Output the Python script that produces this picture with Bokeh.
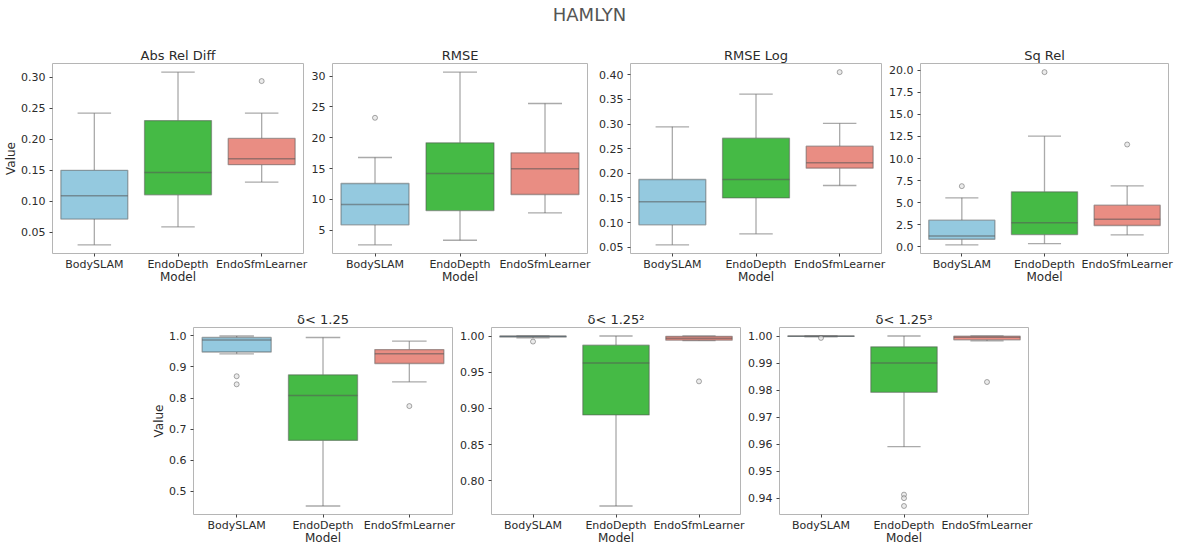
from bokeh.plotting import figure
from bokeh.layouts import column, row
from bokeh.models import Div, FixedTicker, PrintfTickFormatter, ColumnDataSource, Range1d, FactorRange
from bokeh.transform import dodge
from bokeh.embed import file_html
from bokeh.resources import INLINE

models = ["BodySLAM", "EndoDepth", "EndoSfmLearner"]
colors = ["#94C9DF", "#45BA45", "#E98D83"]

# Abs Rel Diff
abs_lo = [0.030, 0.059, 0.131]
abs_q1 = [0.0715, 0.1106, 0.159]
abs_med = [0.109, 0.1466, 0.1686]
abs_q3 = [0.150, 0.230, 0.2013]
abs_hi = [0.242, 0.308, 0.242]
abs_out = [[], [], [0.2936]]
abs_ticks = [0.05, 0.10, 0.15, 0.20, 0.25, 0.30]

# RMSE
rmse_lo = [2.62, 3.37, 7.81]
rmse_q1 = [5.87, 8.19, 10.79]
rmse_med = [9.17, 14.2, 14.96]
rmse_q3 = [12.58, 19.18, 17.55]
rmse_hi = [16.8, 30.65, 25.56]
rmse_out = [[23.24], [], []]
rmse_ticks = [5, 10, 15, 20, 25, 30]

# RMSE Log
rlog_lo = [0.0547, 0.0771, 0.1752]
rlog_q1 = [0.0953, 0.150, 0.2104]
rlog_med = [0.142, 0.1874, 0.2213]
rlog_q3 = [0.1874, 0.2714, 0.2551]
rlog_hi = [0.2944, 0.3607, 0.3012]
rlog_out = [[], [], [0.4054]]
rlog_ticks = [0.05, 0.10, 0.15, 0.20, 0.25, 0.30, 0.35, 0.40]

# Sq Rel
sq_lo = [0.19, 0.34, 1.33]
sq_q1 = [0.83, 1.36, 2.39]
sq_med = [1.21, 2.69, 3.11]
sq_q3 = [2.99, 6.21, 4.70]
sq_hi = [5.53, 12.54, 6.89]
sq_out = [[6.86], [19.81], [11.59]]
sq_ticks = [0.0, 2.5, 5.0, 7.5, 10.0, 12.5, 15.0, 17.5, 20.0]

# delta < 1.25
d1_lo = [0.942, 0.4525, 0.852]
d1_q1 = [0.948, 0.6635, 0.911]
d1_med = [0.987, 0.808, 0.942]
d1_q3 = [0.9947, 0.8745, 0.9557]
d1_hi = [0.9995, 0.9947, 0.983]
d1_out = [[0.870, 0.844], [], [0.774]]
d1_ticks = [0.5, 0.6, 0.7, 0.8, 0.9, 1.0]

# delta < 1.25^2
d2_lo = [0.9975, 0.765, 0.9935]
d2_q1 = [0.9985, 0.8909, 0.9942]
d2_med = [0.9995, 0.9627, 0.9968]
d2_q3 = [0.9999, 0.9873, 0.9995]
d2_hi = [1.0, 1.0, 1.0]
d2_out = [[0.9923], [], [0.9373]]
d2_ticks = [0.80, 0.85, 0.90, 0.95, 1.00]

# delta < 1.25^3
d3_lo = [0.9997, 0.9591, 0.9982]
d3_q1 = [0.99985, 0.9792, 0.9986]
d3_med = [0.99995, 0.990, 0.9995]
d3_q3 = [1.0, 0.996, 0.99995]
d3_hi = [1.0, 1.0, 1.0]
d3_out = [[0.9993], [0.9414, 0.9401, 0.9372], [0.9830]]
d3_ticks = [0.94, 0.95, 0.96, 0.97, 0.98, 0.99, 1.00]

FONT = "DejaVu Sans"
TXT = "#2b2b2b"
LINE = "#555555"


def panel(title, lo, q1, med, q3, hi, out, ticks, fmt, width, height,
          bl, br, bt, bb, ylabel=None):
    vals = lo + hi + [v for o in out for v in o]
    vmin, vmax = min(vals), max(vals)
    pad = (vmax - vmin) * 0.05
    p = figure(width=width, height=height, x_range=FactorRange(*models),
               y_range=Range1d(vmin - pad, vmax + pad),
               output_backend="svg", toolbar_location=None,
               min_border_left=bl, min_border_right=br,
               min_border_top=bt, min_border_bottom=bb)
    p.title.text = title
    p.title.align = "center"
    p.title.text_font = FONT
    p.title.text_font_size = "13px"
    p.title.text_font_style = "normal"
    p.title.text_color = TXT
    p.title.standoff = 1
    p.grid.visible = False
    p.outline_line_color = "#b5b5b5"
    p.outline_line_width = 1
    p.background_fill_color = "white"
    p.border_fill_color = "white"

    src = ColumnDataSource(dict(m=models, lo=lo, q1=q1, med=med, q3=q3, hi=hi, c=colors))
    # whiskers
    p.segment(x0="m", x1="m", y0="lo", y1="q1", source=src, line_color=LINE, line_alpha=0.5, line_width=1.3)
    p.segment(x0="m", x1="m", y0="q3", y1="hi", source=src, line_color=LINE, line_alpha=0.5, line_width=1.3)
    # caps
    p.segment(x0=dodge("m", -0.2, range=p.x_range), x1=dodge("m", 0.2, range=p.x_range),
              y0="lo", y1="lo", source=src, line_color=LINE, line_alpha=0.5, line_width=1.3)
    p.segment(x0=dodge("m", -0.2, range=p.x_range), x1=dodge("m", 0.2, range=p.x_range),
              y0="hi", y1="hi", source=src, line_color=LINE, line_alpha=0.5, line_width=1.3)
    # boxes
    p.vbar(x="m", width=0.8, bottom="q1", top="q3", source=src, fill_color="c",
           line_color=LINE, line_alpha=0.5, line_width=1.3)
    # medians
    p.segment(x0=dodge("m", -0.4, range=p.x_range), x1=dodge("m", 0.4, range=p.x_range),
              y0="med", y1="med", source=src, line_color=LINE, line_alpha=0.55, line_width=1.5)
    # outliers
    ox = [m for m, o in zip(models, out) for _ in o]
    oy = [v for o in out for v in o]
    if oy:
        p.scatter(x=ox, y=oy, marker="circle", size=5, fill_color="#dddddd", fill_alpha=0.6,
                  line_color=LINE, line_alpha=0.5, line_width=1)

    p.yaxis.ticker = FixedTicker(ticks=ticks)
    p.yaxis.formatter = PrintfTickFormatter(format=fmt)
    for ax in (p.xaxis, p.yaxis):
        ax.axis_line_color = None
        ax.major_tick_line_color = "#444444"
        ax.major_tick_out = 3
        ax.major_tick_in = 0
        ax.minor_tick_line_color = None
        ax.major_label_text_font = FONT
        ax.major_label_text_font_size = "11px"
        ax.major_label_text_color = TXT
        ax.axis_label_text_font = FONT
        ax.axis_label_text_font_size = "12px"
        ax.axis_label_text_font_style = "normal"
        ax.axis_label_text_color = TXT
    p.yaxis.major_label_standoff = 4
    p.xaxis.major_label_standoff = 1
    p.xaxis.axis_label = "Model"
    p.xaxis.axis_label_standoff = -4
    if ylabel:
        p.yaxis.axis_label = ylabel
        p.yaxis.axis_label_standoff = 0
    return p


TOP_H = 250
BOT_H = 259

p1 = panel("Abs Rel Diff", abs_lo, abs_q1, abs_med, abs_q3, abs_hi, abs_out, abs_ticks, "%.2f",
           308, TOP_H, 52, 5, 25, 35, ylabel="Value")
p2 = panel("RMSE", rmse_lo, rmse_q1, rmse_med, rmse_q3, rmse_hi, rmse_out, rmse_ticks, "%d",
           284, TOP_H, 22, 5, 25, 35)
p3 = panel("RMSE Log", rlog_lo, rlog_q1, rlog_med, rlog_q3, rlog_hi, rlog_out, rlog_ticks, "%.2f",
           294, TOP_H, 38, 5, 25, 35)
p4 = panel("Sq Rel", sq_lo, sq_q1, sq_med, sq_q3, sq_hi, sq_out, sq_ticks, "%.1f",
           293, TOP_H, 32, 11, 25, 35)

p5 = panel("δ< 1.25", d1_lo, d1_q1, d1_med, d1_q3, d1_hi, d1_out, d1_ticks, "%.1f",
           457, BOT_H, 193, 5, 39, 31, ylabel="Value")
p6 = panel("δ< 1.25²", d2_lo, d2_q1, d2_med, d2_q3, d2_hi, d2_out, d2_ticks, "%.2f",
           288, BOT_H, 32, 5, 39, 31)
p7 = panel("δ< 1.25³", d3_lo, d3_q1, d3_med, d3_q3, d3_hi, d3_out, d3_ticks, "%.2f",
           288, BOT_H, 33, 5, 39, 31)

head = Div(text='<div style="width:1179px;text-align:center;font-family:\'DejaVu Sans\';'
                'font-size:18px;line-height:normal;padding-top:4px;color:#555555;">HAMLYN</div>',
           width=1179, height=38, margin=(0, 0, 0, 0))

layout = column(head, row(p1, p2, p3, p4), row(p5, p6, p7))
open("out.html", "w").write(file_html(layout, INLINE))
